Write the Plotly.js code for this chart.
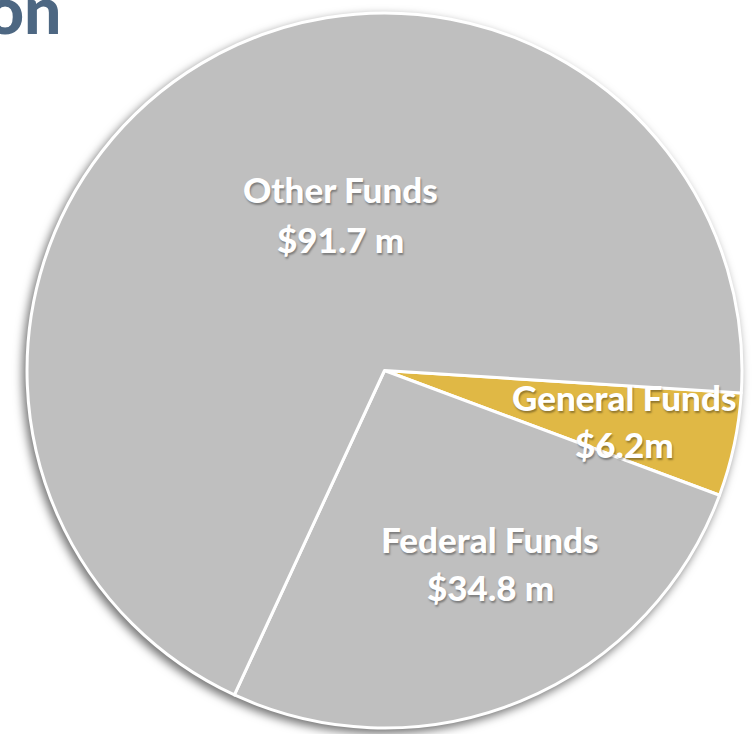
<!DOCTYPE html>
<html>
<head>
<meta charset="utf-8">
<script src="https://cdn.plot.ly/plotly-3.0.1.min.js"></script>
<style>
html,body{margin:0;padding:0;background:#fff;}
#chart{width:756px;height:734px;}
.pielayer{filter: drop-shadow(-3px 4px 5px rgba(0,0,0,0.55));}
</style>
</head>
<body>
<div id="chart"></div>
<script>
// Data
const categories = ['General Funds', 'Federal Funds', 'Other Funds'];
const values = [6.2, 34.8, 91.7];
const valueLabels = ['$6.2m', '$34.8 m', '$91.7 m'];
const sliceColors = ['#E0B845', '#BFBFBF', '#BFBFBF'];
const titleText = 'on';

const W = 756, H = 734;
const px = x => x / W;
const py = y => 1 - y / H;

// label positions (pixel centers) — layout styling
const labelPos = [
  {x: 624, y: 397, vy: 444},
  {x: 490, y: 539, vy: 587},
  {x: 340, y: 189, vy: 239}
];

const textFont = {family: 'Lato, "Open Sans", sans-serif', size: 35, color: '#FFFFFF', weight: 900,
  shadow: '1px 2px 2px rgba(0,0,0,0.35)'};

const annotations = [];
categories.forEach((c, i) => {
  annotations.push({text: c, x: px(labelPos[i].x), y: py(labelPos[i].y),
    xref: 'paper', yref: 'paper', showarrow: false, xanchor: 'center', yanchor: 'middle', font: textFont});
  annotations.push({text: valueLabels[i], x: px(labelPos[i].x), y: py(labelPos[i].vy),
    xref: 'paper', yref: 'paper', showarrow: false, xanchor: 'center', yanchor: 'middle', font: textFont});
});
annotations.push({text: titleText, x: px(64), y: py(8), xref: 'paper', yref: 'paper',
  showarrow: false, xanchor: 'right', yanchor: 'middle',
  font: {family: 'Lato, sans-serif', size: 66, color: '#4D6782', weight: 900}});

const trace = {
  type: 'pie',
  labels: categories,
  values: values,
  sort: false,
  direction: 'clockwise',
  rotation: 93.6,
  textinfo: 'none',
  hoverinfo: 'none',
  showlegend: false,
  marker: {colors: sliceColors, line: {color: '#FFFFFF', width: 3}},
  domain: {x: [px(384.5 - 357.5), px(384.5 + 357.5)], y: [py(370.5 + 357.5), py(370.5 - 357.5)]}
};

const layout = {
  width: W, height: H,
  margin: {l: 0, r: 0, t: 0, b: 0},
  paper_bgcolor: '#FFFFFF',
  showlegend: false,
  annotations: annotations
};

Plotly.newPlot('chart', [trace], layout, {displayModeBar: false, staticPlot: true});
</script>
</body>
</html>
